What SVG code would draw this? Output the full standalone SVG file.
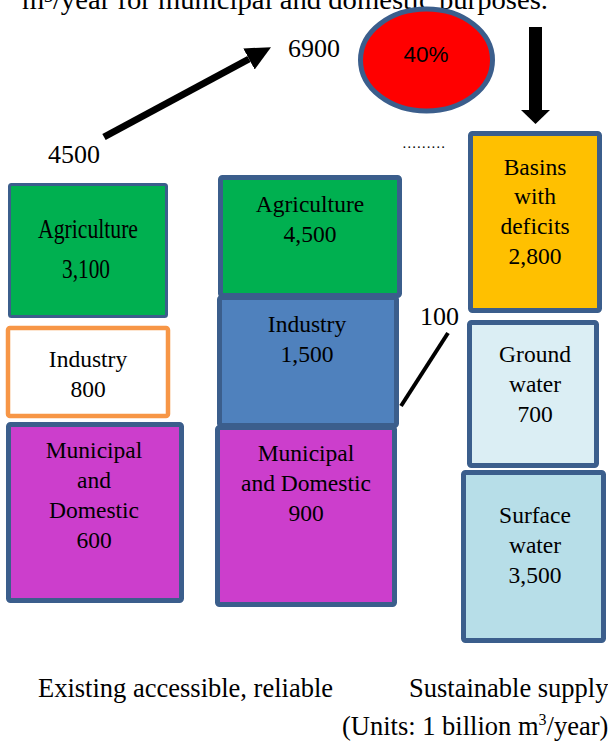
<svg xmlns="http://www.w3.org/2000/svg" width="608" height="742" viewBox="0 0 608 742">
<style>
text{font-family:"Liberation Serif","Times New Roman",serif;fill:#000;}
.bt{font-size:23.5px;text-anchor:middle;}
.lbl{font-size:26px;}
.cap{font-size:26.5px;}
.box{stroke:#3b5e8c;stroke-width:5;}
</style>
<defs>
<marker id="headDiag" markerUnits="userSpaceOnUse" markerWidth="26" markerHeight="26" viewBox="0 0 26 26" refX="0" refY="12" orient="auto"><path d="M0,0 L25,12 L0,24 z" fill="#000"/></marker>
<marker id="headDown" markerUnits="userSpaceOnUse" markerWidth="16" markerHeight="30" viewBox="0 0 16 30" refX="0" refY="14.5" orient="auto"><path d="M0,0 L14,14.5 L0,29 z" fill="#000"/></marker>
</defs>
<rect width="608" height="742" fill="#fff"/>
<text x="22" y="9" font-size="27" textLength="526" lengthAdjust="spacingAndGlyphs">m³/year for municipal and domestic purposes.</text>

<g id="connectors">
<line x1="104" y1="137" x2="249" y2="59" stroke="#000" stroke-width="7" marker-end="url(#headDiag)"/>
<line x1="535.5" y1="27" x2="535.5" y2="110" stroke="#000" stroke-width="13" marker-end="url(#headDown)"/>
<line x1="401" y1="406" x2="448" y2="333" stroke="#000" stroke-width="4"/>
</g>

<g id="label-4500"><text class="lbl" x="48" y="163">4500</text></g>
<g id="label-6900"><text class="lbl" x="288" y="57">6900</text></g>
<g id="label-100"><text class="lbl" x="420" y="325">100</text></g>
<g id="dots"><text x="402" y="148" font-size="14.5">………</text></g>

<g id="pct40">
<ellipse cx="426.5" cy="60" rx="66" ry="51" fill="#ff0000" stroke="#3b5e8c" stroke-width="5"/>
<text x="426" y="62" font-size="22.5" text-anchor="middle" style="font-family:'Liberation Sans',Arial,sans-serif">40%</text>
</g>

<g id="agri-3100">
<rect x="9.5" y="184.5" width="157" height="132" rx="2" fill="#00b050" stroke="#3b5e8c" stroke-width="3"/>
<text x="88" y="238" font-size="27" text-anchor="middle" textLength="100" lengthAdjust="spacingAndGlyphs">Agriculture</text>
<text x="86" y="278" font-size="27" text-anchor="middle" textLength="48" lengthAdjust="spacingAndGlyphs">3,100</text>
</g>
<g id="ind-800">
<rect x="8" y="328" width="160" height="88" rx="2" fill="#fff" stroke="#f79646" stroke-width="4.5"/>
<text class="bt" x="88" y="367">Industry</text>
<text class="bt" x="88" y="397">800</text>
</g>
<g id="mun-600">
<rect x="8.5" y="424.5" width="173" height="176" rx="2" fill="#cc3ecc" class="box"/>
<text class="bt" x="94" y="458">Municipal</text>
<text class="bt" x="94" y="488">and</text>
<text class="bt" x="94" y="518">Domestic</text>
<text class="bt" x="94" y="548">600</text>
</g>

<g id="agri-4500">
<rect x="220.5" y="177.5" width="179" height="118" rx="2" fill="#00b050" class="box"/>
<text class="bt" x="310" y="212">Agriculture</text>
<text class="bt" x="310" y="242">4,500</text>
</g>
<g id="ind-1500">
<rect x="219.5" y="297.5" width="177" height="128" rx="2" fill="#4f81bd" class="box"/>
<text class="bt" x="307" y="332">Industry</text>
<text class="bt" x="307" y="362">1,500</text>
</g>
<g id="mun-900">
<rect x="217.5" y="427.5" width="177" height="177" rx="2" fill="#cc3ecc" class="box"/>
<text class="bt" x="306" y="461">Municipal</text>
<text class="bt" x="306" y="491">and Domestic</text>
<text class="bt" x="306" y="521">900</text>
</g>

<g id="basins-2800">
<rect x="470.5" y="133.5" width="129" height="177" rx="2" fill="#ffc000" class="box"/>
<text class="bt" x="535" y="175">Basins</text>
<text class="bt" x="535" y="204">with</text>
<text class="bt" x="535" y="234">deficits</text>
<text class="bt" x="535" y="264">2,800</text>
</g>
<g id="ground-700">
<rect x="469.5" y="322.5" width="127" height="143" rx="2" fill="#dbeef4" class="box"/>
<text class="bt" x="535" y="362">Ground</text>
<text class="bt" x="535" y="392">water</text>
<text class="bt" x="535" y="422">700</text>
</g>
<g id="surface-3500">
<rect x="463.5" y="472.5" width="140" height="168" rx="2" fill="#b7dee8" class="box"/>
<text class="bt" x="535" y="523">Surface</text>
<text class="bt" x="535" y="553">water</text>
<text class="bt" x="535" y="583">3,500</text>
</g>

<g id="captions">
<text class="cap" x="38" y="697">Existing accessible, reliable</text>
<text class="cap" x="409" y="697">Sustainable supply</text>
<text class="cap" x="342" y="735">(Units: 1 billion m<tspan font-size="16" dy="-10">3</tspan><tspan dy="10">/year)</tspan></text>
</g>
</svg>
